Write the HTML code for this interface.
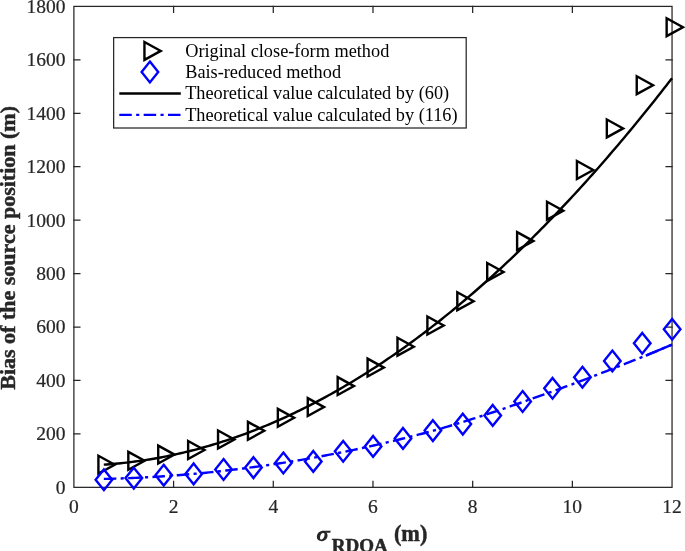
<!DOCTYPE html>
<html><head><meta charset="utf-8"><title>chart</title>
<style>
html,body{margin:0;padding:0;background:#fff;}
body{width:685px;height:551px;overflow:hidden;}
svg{display:block;will-change:transform;}
text{font-family:"Liberation Serif",serif;fill:#262626;}
.tk{font-size:18.5px;stroke:#262626;stroke-width:0.2px;}
.lg{font-size:18.3px;fill:#000;}
.lb{font-size:22.0px;font-weight:bold;stroke:#262626;stroke-width:0.45px;}
</style></head><body>
<svg width="685" height="551" viewBox="0 0 685 551">
<rect width="685" height="551" fill="#fff"/>
<g stroke="#262626" stroke-width="1.25" fill="none" stroke-linecap="square">
<rect x="73.9" y="6.4" width="598.15" height="480.95"/>
<path d="M173.59 487.35V481.35M173.59 6.4V12.4"/>
<path d="M273.28 487.35V481.35M273.28 6.4V12.4"/>
<path d="M372.98 487.35V481.35M372.98 6.4V12.4"/>
<path d="M472.67 487.35V481.35M472.67 6.4V12.4"/>
<path d="M572.36 487.35V481.35M572.36 6.4V12.4"/>
<path d="M73.9 433.91H79.9M672.05 433.91H666.05"/>
<path d="M73.9 380.47H79.9M672.05 380.47H666.05"/>
<path d="M73.9 327.03H79.9M672.05 327.03H666.05"/>
<path d="M73.9 273.59H79.9M672.05 273.59H666.05"/>
<path d="M73.9 220.16H79.9M672.05 220.16H666.05"/>
<path d="M73.9 166.72H79.9M672.05 166.72H666.05"/>
<path d="M73.9 113.28H79.9M672.05 113.28H666.05"/>
<path d="M73.9 59.84H79.9M672.05 59.84H666.05"/>
</g>
<text class="tk" transform="translate(73.90 512.5) scale(1.055 1)" text-anchor="middle">0</text>
<text class="tk" transform="translate(173.59 512.5) scale(1.055 1)" text-anchor="middle">2</text>
<text class="tk" transform="translate(273.28 512.5) scale(1.055 1)" text-anchor="middle">4</text>
<text class="tk" transform="translate(372.98 512.5) scale(1.055 1)" text-anchor="middle">6</text>
<text class="tk" transform="translate(472.67 512.5) scale(1.055 1)" text-anchor="middle">8</text>
<text class="tk" transform="translate(572.36 512.5) scale(1.055 1)" text-anchor="middle">10</text>
<text class="tk" transform="translate(672.05 512.5) scale(1.055 1)" text-anchor="middle">12</text>
<text class="tk" transform="translate(65.4 493.80) scale(1.055 1)" text-anchor="end">0</text>
<text class="tk" transform="translate(65.4 440.36) scale(1.055 1)" text-anchor="end">200</text>
<text class="tk" transform="translate(65.4 386.92) scale(1.055 1)" text-anchor="end">400</text>
<text class="tk" transform="translate(65.4 333.48) scale(1.055 1)" text-anchor="end">600</text>
<text class="tk" transform="translate(65.4 280.04) scale(1.055 1)" text-anchor="end">800</text>
<text class="tk" transform="translate(65.4 226.61) scale(1.055 1)" text-anchor="end">1000</text>
<text class="tk" transform="translate(65.4 173.17) scale(1.055 1)" text-anchor="end">1200</text>
<text class="tk" transform="translate(65.4 119.73) scale(1.055 1)" text-anchor="end">1400</text>
<text class="tk" transform="translate(65.4 66.29) scale(1.055 1)" text-anchor="end">1600</text>
<text class="tk" transform="translate(65.4 12.85) scale(1.055 1)" text-anchor="end">1800</text>
<path d="M103.81 464.63L106.65 464.44L109.49 464.23L112.33 464.00L115.17 463.76L118.01 463.49L120.85 463.21L123.70 462.92L126.54 462.60L129.38 462.27L132.22 461.92L135.06 461.55L137.90 461.16L140.74 460.76L143.58 460.34L146.43 459.90L149.27 459.45L152.11 458.98L154.95 458.49L157.79 457.98L160.63 457.45L163.47 456.91L166.31 456.35L169.16 455.77L172.00 455.18L174.84 454.57L177.68 453.94L180.52 453.29L183.36 452.62L186.20 451.94L189.04 451.24L191.89 450.53L194.73 449.79L197.57 449.04L200.41 448.27L203.25 447.48L206.09 446.68L208.93 445.85L211.77 445.01L214.61 444.16L217.46 443.28L220.30 442.39L223.14 441.48L225.98 440.55L228.82 439.61L231.66 438.65L234.50 437.67L237.34 436.67L240.19 435.66L243.03 434.62L245.87 433.57L248.71 432.51L251.55 431.42L254.39 430.32L257.23 429.20L260.07 428.07L262.92 426.91L265.76 425.74L268.60 424.55L271.44 423.34L274.28 422.12L277.12 420.88L279.96 419.62L282.80 418.34L285.65 417.05L288.49 415.73L291.33 414.41L294.17 413.06L297.01 411.69L299.85 410.31L302.69 408.91L305.53 407.50L308.37 406.06L311.22 404.61L314.06 403.14L316.90 401.66L319.74 400.15L322.58 398.63L325.42 397.09L328.26 395.53L331.10 393.96L333.95 392.37L336.79 390.76L339.63 389.13L342.47 387.49L345.31 385.83L348.15 384.15L350.99 382.45L353.83 380.74L356.68 379.01L359.52 377.26L362.36 375.49L365.20 373.71L368.04 371.91L370.88 370.09L373.72 368.25L376.56 366.40L379.41 364.53L382.25 362.64L385.09 360.73L387.93 358.81L390.77 356.87L393.61 354.91L396.45 352.93L399.29 350.94L402.13 348.93L404.98 346.90L407.82 344.85L410.66 342.79L413.50 340.71L416.34 338.61L419.18 336.49L422.02 334.36L424.86 332.21L427.71 330.04L430.55 327.86L433.39 325.65L436.23 323.43L439.07 321.19L441.91 318.94L444.75 316.66L447.59 314.37L450.44 312.06L453.28 309.74L456.12 307.40L458.96 305.03L461.80 302.66L464.64 300.26L467.48 297.85L470.32 295.42L473.17 292.97L476.01 290.50L478.85 288.02L481.69 285.52L484.53 283.00L487.37 280.46L490.21 277.91L493.05 275.34L495.89 272.75L498.74 270.15L501.58 267.52L504.42 264.88L507.26 262.23L510.10 259.55L512.94 256.86L515.78 254.15L518.62 251.42L521.47 248.67L524.31 245.91L527.15 243.13L529.99 240.33L532.83 237.52L535.67 234.68L538.51 231.83L541.35 228.97L544.20 226.08L547.04 223.18L549.88 220.26L552.72 217.32L555.56 214.36L558.40 211.39L561.24 208.40L564.08 205.39L566.93 202.37L569.77 199.33L572.61 196.27L575.45 193.19L578.29 190.09L581.13 186.98L583.97 183.85L586.81 180.70L589.65 177.54L592.50 174.36L595.34 171.16L598.18 167.94L601.02 164.70L603.86 161.45L606.70 158.18L609.54 154.89L612.38 151.59L615.23 148.27L618.07 144.93L620.91 141.57L623.75 138.19L626.59 134.80L629.43 131.39L632.27 127.96L635.11 124.52L637.96 121.06L640.80 117.58L643.64 114.08L646.48 110.57L649.32 107.03L652.16 103.48L655.00 99.92L657.84 96.33L660.69 92.73L663.53 89.11L666.37 85.47L669.21 81.82L672.05 78.15" fill="none" stroke="#000" stroke-width="2.4"/>
<path d="M103.81 478.92L106.65 478.85L109.49 478.78L112.33 478.70L115.17 478.61L118.01 478.52L120.85 478.43L123.70 478.32L126.54 478.21L129.38 478.10L132.22 477.98L135.06 477.85L137.90 477.71L140.74 477.58L143.58 477.43L146.43 477.28L149.27 477.12L152.11 476.96L154.95 476.79L157.79 476.61L160.63 476.43L163.47 476.24L166.31 476.05L169.16 475.84L172.00 475.64L174.84 475.43L177.68 475.21L180.52 474.98L183.36 474.75L186.20 474.52L189.04 474.27L191.89 474.02L194.73 473.77L197.57 473.51L200.41 473.24L203.25 472.97L206.09 472.69L208.93 472.40L211.77 472.11L214.61 471.81L217.46 471.51L220.30 471.20L223.14 470.89L225.98 470.56L228.82 470.24L231.66 469.90L234.50 469.56L237.34 469.22L240.19 468.86L243.03 468.51L245.87 468.14L248.71 467.77L251.55 467.40L254.39 467.01L257.23 466.62L260.07 466.23L262.92 465.83L265.76 465.42L268.60 465.01L271.44 464.59L274.28 464.17L277.12 463.74L279.96 463.30L282.80 462.86L285.65 462.41L288.49 461.95L291.33 461.49L294.17 461.02L297.01 460.55L299.85 460.07L302.69 459.59L305.53 459.09L308.37 458.60L311.22 458.09L314.06 457.58L316.90 457.07L319.74 456.55L322.58 456.02L325.42 455.48L328.26 454.94L331.10 454.40L333.95 453.84L336.79 453.29L339.63 452.72L342.47 452.15L345.31 451.58L348.15 450.99L350.99 450.40L353.83 449.81L356.68 449.21L359.52 448.60L362.36 447.99L365.20 447.37L368.04 446.75L370.88 446.11L373.72 445.48L376.56 444.83L379.41 444.18L382.25 443.53L385.09 442.87L387.93 442.20L390.77 441.53L393.61 440.85L396.45 440.16L399.29 439.47L402.13 438.77L404.98 438.07L407.82 437.36L410.66 436.64L413.50 435.92L416.34 435.19L419.18 434.46L422.02 433.72L424.86 432.97L427.71 432.22L430.55 431.46L433.39 430.70L436.23 429.93L439.07 429.13L441.91 428.29L444.75 427.45L447.59 426.61L450.44 425.76L453.28 424.90L456.12 424.04L458.96 423.17L461.80 422.29L464.64 421.41L467.48 420.52L470.32 419.63L473.17 418.73L476.01 417.82L478.85 416.91L481.69 415.99L484.53 415.07L487.37 414.14L490.21 413.20L493.05 412.26L495.89 411.31L498.74 410.35L501.58 409.39L504.42 408.43L507.26 407.45L510.10 406.47L512.94 405.49L515.78 404.50L518.62 403.50L521.47 402.50L524.31 401.49L527.15 400.47L529.99 399.45L532.83 398.43L535.67 397.39L538.51 396.35L541.35 395.34L544.20 394.35L547.04 393.35L549.88 392.35L552.72 391.34L555.56 390.32L558.40 389.30L561.24 388.27L564.08 387.24L566.93 386.20L569.77 385.15L572.61 384.10L575.45 383.04L578.29 381.98L581.13 380.91L583.97 379.84L586.81 378.75L589.65 377.67L592.50 376.57L595.34 375.47L598.18 374.37L601.02 373.25L603.86 372.13L606.70 371.01L609.54 369.88L612.38 368.74L615.23 367.61L618.07 366.52L620.91 365.42L623.75 364.32L626.59 363.21L629.43 362.09L632.27 360.97L635.11 359.84L637.96 358.71L640.80 357.57L643.64 356.42L646.48 355.27L649.32 354.11L652.16 352.95L655.00 351.78L657.84 350.60L660.69 349.42L663.53 348.23L666.37 347.04L669.21 345.84L672.05 344.63" fill="none" stroke="#0000ff" stroke-width="2.4" stroke-dasharray="12.5 4.35 3.15 4.35"/>
<path d="M645.80 355.55L657.10 350.91L672.05 344.63" fill="none" stroke="#0000ff" stroke-width="2.4"/>
<g fill="none" stroke="#000" stroke-width="2.4" stroke-linejoin="miter">
<path d="M98.41 455.75L114.71 464.70L98.41 473.65Z"/>
<path d="M128.32 451.85L144.62 460.80L128.32 469.75Z"/>
<path d="M158.22 445.65L174.52 454.60L158.22 463.55Z"/>
<path d="M188.13 441.05L204.43 450.00L188.13 458.95Z"/>
<path d="M218.04 430.55L234.34 439.50L218.04 448.45Z"/>
<path d="M247.94 421.85L264.25 430.80L247.94 439.75Z"/>
<path d="M277.85 408.85L294.15 417.80L277.85 426.75Z"/>
<path d="M307.76 398.15L324.06 407.10L307.76 416.05Z"/>
<path d="M337.67 377.15L353.97 386.10L337.67 395.05Z"/>
<path d="M367.58 358.65L383.88 367.60L367.58 376.55Z"/>
<path d="M397.48 337.75L413.78 346.70L397.48 355.65Z"/>
<path d="M427.39 316.55L443.69 325.50L427.39 334.45Z"/>
<path d="M457.30 292.25L473.60 301.20L457.30 310.15Z"/>
<path d="M487.21 263.00L503.51 271.95L487.21 280.90Z"/>
<path d="M517.11 232.15L533.41 241.10L517.11 250.05Z"/>
<path d="M547.02 201.75L563.32 210.70L547.02 219.65Z"/>
<path d="M576.93 161.05L593.23 170.00L576.93 178.95Z"/>
<path d="M606.83 119.45L623.13 128.40L606.83 137.35Z"/>
<path d="M636.74 76.25L653.04 85.20L636.74 94.15Z"/>
<path d="M666.65 18.25L682.95 27.20L666.65 36.15Z"/>
</g>
<g fill="none" stroke="#0000ff" stroke-width="2.4" stroke-linejoin="miter">
<path d="M103.91 469.40L112.21 479.80L103.91 490.20L95.61 479.80Z"/>
<path d="M133.81 467.70L142.12 478.10L133.81 488.50L125.52 478.10Z"/>
<path d="M163.72 464.80L172.02 475.20L163.72 485.60L155.42 475.20Z"/>
<path d="M193.63 463.50L201.93 473.90L193.63 484.30L185.33 473.90Z"/>
<path d="M223.54 459.10L231.84 469.50L223.54 479.90L215.24 469.50Z"/>
<path d="M253.44 457.20L261.74 467.60L253.44 478.00L245.14 467.60Z"/>
<path d="M283.35 452.60L291.65 463.00L283.35 473.40L275.05 463.00Z"/>
<path d="M313.26 451.00L321.56 461.40L313.26 471.80L304.96 461.40Z"/>
<path d="M343.17 440.90L351.47 451.30L343.17 461.70L334.87 451.30Z"/>
<path d="M373.08 436.00L381.38 446.40L373.08 456.80L364.78 446.40Z"/>
<path d="M402.98 428.00L411.28 438.40L402.98 448.80L394.68 438.40Z"/>
<path d="M432.89 420.20L441.19 430.60L432.89 441.00L424.59 430.60Z"/>
<path d="M462.80 413.70L471.10 424.10L462.80 434.50L454.50 424.10Z"/>
<path d="M492.71 405.00L501.01 415.40L492.71 425.80L484.41 415.40Z"/>
<path d="M522.61 391.10L530.91 401.50L522.61 411.90L514.31 401.50Z"/>
<path d="M552.52 377.90L560.82 388.30L552.52 398.70L544.22 388.30Z"/>
<path d="M582.43 366.80L590.73 377.20L582.43 387.60L574.13 377.20Z"/>
<path d="M612.33 350.60L620.63 361.00L612.33 371.40L604.03 361.00Z"/>
<path d="M642.24 332.90L650.54 343.30L642.24 353.70L633.94 343.30Z"/>
<path d="M672.15 318.90L680.45 329.30L672.15 339.70L663.85 329.30Z"/>
</g>
<rect x="113.65" y="37.6" width="352.55" height="90.40" fill="#fff" stroke="#262626" stroke-width="1.25"/>
<g fill="none" stroke="#000" stroke-width="2.4"><path d="M144.45 41.95L160.75 50.90L144.45 59.85Z"/></g>
<g fill="none" stroke="#0000ff" stroke-width="2.4"><path d="M149.90 61.60L158.20 72.00L149.90 82.40L141.60 72.00Z"/></g>
<path d="M119.3 93.5H180.8" stroke="#000" stroke-width="2.4"/>
<path d="M119.3 114.9H180.8" stroke="#0000ff" stroke-width="2.4" stroke-dasharray="12.5 4.35 3.15 4.35"/>
<text class="lg" x="185.2" y="56.80">Original close-form method</text>
<text class="lg" x="185.2" y="77.90">Bais-reduced method</text>
<text class="lg" x="185.2" y="99.40">Theoretical value calculated by (60)</text>
<text class="lg" x="185.2" y="120.80">Theoretical value calculated by (116)</text>
<text class="lb" transform="translate(15.1 247.9) rotate(-90)" text-anchor="middle">Bias of the source position (m)</text>
<g transform="translate(310 521) scale(0.05839)" fill="#262626"><path fill-rule="evenodd" d="M205 172 C150 176 116 225 118 280 C120 325 155 347 205 345 C262 342 302 300 300 245 C299 215 285 195 262 190 L262 172 Z M218 205 C190 208 170 250 172 292 C173 312 185 322 200 318 C232 310 252 262 250 228 C249 210 236 203 218 205 Z"/><path d="M200 166 L356 168 L346 200 L235 200 Z"/></g>
<text x="331.8" y="551.8" style="font-size:19px;font-weight:bold;stroke:#262626;stroke-width:0.5px">RDOA</text>
<text x="393.9" y="540.8" style="font-size:22.3px;font-weight:bold;stroke:#262626;stroke-width:0.45px">(m)</text>
</svg></body></html>
